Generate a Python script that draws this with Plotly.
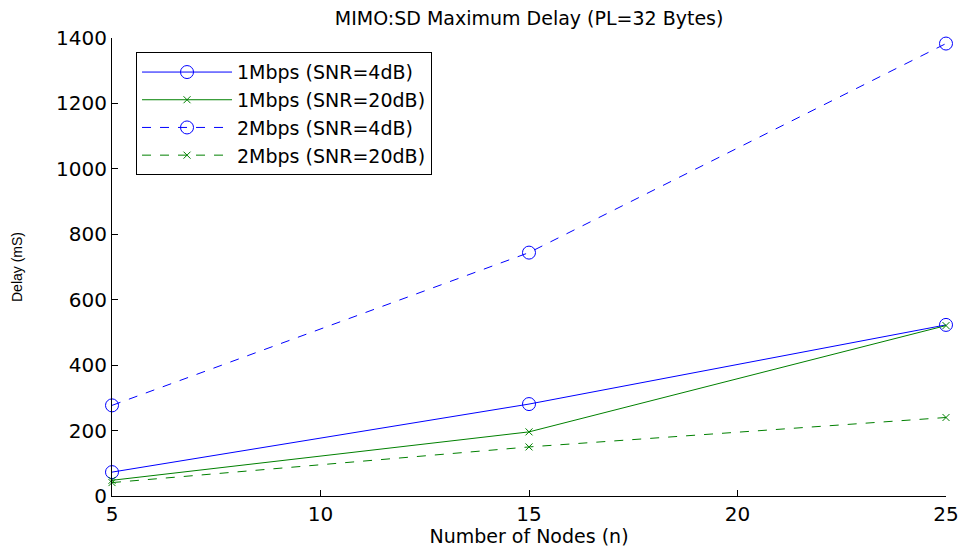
import plotly.graph_objects as go

nodes = [5, 15, 25]
mbps1_snr4 = [73, 281, 523]
mbps1_snr20 = [48, 196, 521]
mbps2_snr4 = [277, 744, 1383]
mbps2_snr20 = [41, 150, 240]

names = ["1Mbps (SNR=4dB)", "1Mbps (SNR=20dB)", "2Mbps (SNR=4dB)", "2Mbps (SNR=20dB)"]
series = [mbps1_snr4, mbps1_snr20, mbps2_snr4, mbps2_snr20]
colors = ["#0000ff", "#008000", "#0000ff", "#008000"]
dashes = ["solid", "solid", "dash", "dash"]
symbols = ["circle-open", "x-thin-open", "circle-open", "x-thin-open"]
sizes = [13, 7, 13, 7]

fig = go.Figure()
for n, s, c, d, sym, sz in zip(names, series, colors, dashes, symbols, sizes):
    fig.add_trace(go.Scatter(
        x=nodes, y=s, name=n, mode="lines+markers",
        line=dict(color=c, width=1, dash=d),
        marker=dict(symbol=sym, size=sz, color=c, line=dict(color=c, width=1)),
        cliponaxis=False,
    ))

wide = "DejaVu Sans, Verdana, sans-serif"
fs = 20
fig.update_layout(
    width=962, height=547,
    margin=dict(l=112, r=16, t=38, b=51, autoexpand=False),
    paper_bgcolor="white", plot_bgcolor="white",
    font=dict(family=wide, size=fs, color="black"),
    title=dict(text="MIMO:SD Maximum Delay (PL=32 Bytes)", x=0.55, xanchor="center",
               y=0.967, yanchor="middle", font=dict(size=fs - 1, family=wide)),
    showlegend=True,
    legend=dict(x=0.0288, y=0.969, xanchor="left", yanchor="top",
                bordercolor="black", borderwidth=1, bgcolor="white",
                font=dict(size=fs - 1, family=wide), tracegroupgap=0, itemwidth=90),
    xaxis=dict(range=[5, 25], tickvals=[5, 10, 15, 20, 25], showgrid=False, zeroline=False,
               showline=True, linecolor="black", linewidth=1, ticks="inside", ticklen=6,
               tickcolor="black", mirror=False, tickfont=dict(size=fs, family=wide),
               automargin=False,
               title=dict(text="Number of Nodes (n)", font=dict(size=fs - 1, family=wide), standoff=2)),
    yaxis=dict(range=[0, 1400], tickvals=list(range(0, 1401, 200)), showgrid=False, zeroline=False,
               showline=True, linecolor="black", linewidth=1, ticks="inside", ticklen=6,
               tickcolor="black", mirror=False, tickfont=dict(size=fs, family=wide),
               automargin=False,
               title=dict(text="Delay (mS)", font=dict(size=14, family="Liberation Sans, Arial, sans-serif"),
                          standoff=30)),
)

fig.write_html("out.html")
